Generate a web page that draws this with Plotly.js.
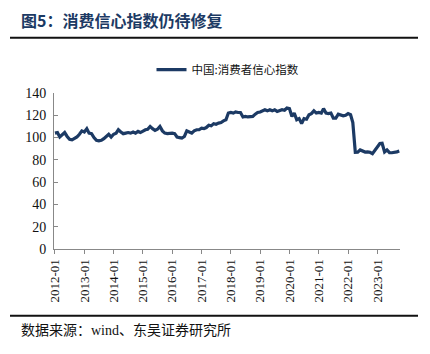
<!DOCTYPE html>
<html>
<head>
<meta charset="utf-8">
<script src="https://cdn.plot.ly/plotly-3.0.1.min.js"></script>
<style>
html,body{margin:0;padding:0;background:#fff;}
#chart{width:430px;height:354px;}
</style>
</head>
<body>
<div id="chart"></div>
<script>
// Monthly values of China consumer confidence index, 2012-01 .. 2023-10
var v2012 = [104, 104.5, 100.5, 103, 104.5, 101, 98.5, 98, 99, 100.5, 103, 106];
var v2013 = [105, 108, 104, 103.5, 100, 97.5, 97, 97.5, 99, 101, 103, 100.5];
var v2014 = [103, 104, 107, 105, 103.5, 104, 104.5, 104, 105, 104, 105.5, 104.5];
var v2015 = [106, 107, 107.5, 110, 108, 106.5, 107.5, 110, 106, 104, 103.5, 104];
var v2016 = [104, 103.5, 100.5, 100, 99.5, 101, 106, 105, 104, 106, 107, 107];
var v2017 = [108.5, 108, 109, 111, 110.5, 112.5, 112, 113, 113.5, 115, 116, 122];
var v2018 = [122.5, 122, 123, 122.5, 122.5, 118.5, 119, 118.5, 118.5, 119, 121, 122.5];
var v2019 = [123, 124, 125, 124, 125, 124, 125, 123.5, 124.5, 125, 124.5, 126.5];
var v2020 = [126, 119, 122, 116, 117, 112.5, 117, 116.5, 120.5, 121.5, 124, 122];
var v2021 = [122.5, 122, 126, 122, 121.5, 122, 117.5, 117.5, 121, 120, 119.5, 120];
var v2022 = [121.5, 120.5, 113.5, 86.7, 86.8, 88.9, 87.9, 87, 87.2, 86.8, 85.5, 88.3];
var v2023 = [91.2, 94.7, 94.9, 87.1, 88.9, 86.5, 86.4, 86.5, 87.2, 87.9];

var years = [2012, 2013, 2014, 2015, 2016, 2017, 2018, 2019, 2020, 2021, 2022, 2023];
var yearValues = [v2012, v2013, v2014, v2015, v2016, v2017, v2018, v2019, v2020, v2021, v2022, v2023];
var tickLabels = ["2012-01","2013-01","2014-01","2015-01","2016-01","2017-01","2018-01","2019-01","2020-01","2021-01","2022-01","2023-01"];
var seriesName = "中国:消费者信心指数";
var yTicks = [0, 20, 40, 60, 80, 100, 120, 140];

var xs = [], ys = [];
years.forEach(function(yr, i){
  yearValues[i].forEach(function(v, m){
    xs.push(yr + "-" + (m < 9 ? "0" : "") + (m + 1) + "-01");
    ys.push(v);
  });
});
var tickVals = tickLabels.map(function(t){ return t + "-01"; });

var navy = "#1c3a64";
var serif = "'Liberation Serif', 'Times New Roman', serif";
var cjk = "'Noto Sans CJK SC', sans-serif";

var trace = {
  x: xs, y: ys, type: "scatter", mode: "lines", name: seriesName,
  line: {color: navy, width: 3.2, shape: "linear"}
};

// plot area: left 54, right 400, top 92.5, bottom 249
var L = 54, R = 400, T = 92.5, B = 249;
var W = 430, H = 354;
function px(x){ return (x - L) / (R - L); }
function py(y){ return (B - y) / (B - T); }

var layout = {
  width: W, height: H,
  margin: {l: L, r: W - R, t: T, b: H - B, pad: 0},
  paper_bgcolor: "#fff", plot_bgcolor: "#fff",
  showlegend: true,
  legend: {
    orientation: "h", x: px(228), y: py(69), xanchor: "center", yanchor: "middle",
    font: {family: cjk, size: 11.5, color: "#111"}, itemwidth: 30, bgcolor: "rgba(0,0,0,0)"
  },
  xaxis: {
    type: "date", range: ["2011-12-20", "2023-10-10"],
    tickmode: "array", tickvals: tickVals, ticktext: tickLabels,
    tickangle: -90, ticks: "outside", ticklen: 4, tickcolor: "#888",
    showline: true, linecolor: "#888", linewidth: 1, showgrid: false, zeroline: false,
    tickfont: {family: serif, size: 13, color: "#111"}
  },
  yaxis: {
    range: [0, 140], tickmode: "array", tickvals: yTicks,
    ticks: "inside", ticklen: 4, tickcolor: "#888",
    showline: true, linecolor: "#888", linewidth: 1, showgrid: false, zeroline: false,
    tickfont: {family: serif, size: 14, color: "#111"}, ticklabelstandoff: 4
  },
  shapes: [
    {type: "line", xref: "paper", yref: "paper", x0: px(10), x1: px(418), y0: py(37), y1: py(37),
     line: {color: "#111", width: 2}},
    {type: "line", xref: "paper", yref: "paper", x0: px(10), x1: px(418), y0: py(316), y1: py(316),
     line: {color: "#111", width: 2}}
  ],
  annotations: [
    {xref: "paper", yref: "paper", x: px(19), y: py(19), xanchor: "left", yanchor: "middle",
     text: "<b>图5：消费信心指数仍待修复</b>", showarrow: false,
     font: {family: cjk, size: 16, color: "#1c3a64"}},
    {xref: "paper", yref: "paper", x: px(19), y: py(329), xanchor: "left", yanchor: "middle",
     text: "数据来源：<span style=\"font-family:'Liberation Serif'\">wind</span>、东吴证券研究所", showarrow: false,
     font: {family: cjk, size: 14, color: "#111"}}
  ]
};

Plotly.newPlot("chart", [trace], layout, {displayModeBar: false, staticPlot: true});
</script>
</body>
</html>
